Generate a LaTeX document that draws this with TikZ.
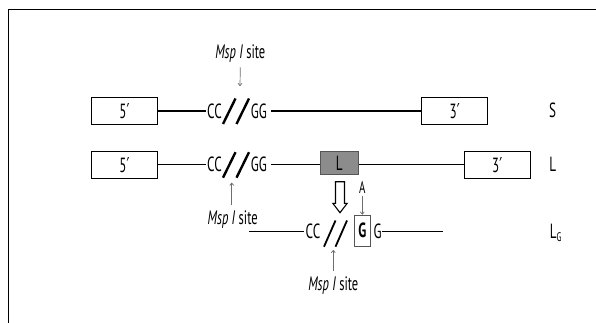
\documentclass[tikz,border=0pt]{standalone}
\usepackage{fontspec}
\setmainfont[FakeStretch=0.64]{PT Sans}
\newfontfamily\primefont[FakeStretch=0.64]{DejaVu Sans}
\newcommand{\pr}{{\primefont ′}}
\usetikzlibrary{arrows.meta}
\definecolor{boxgray}{RGB}{140,140,140}
\definecolor{boxedge}{RGB}{85,85,85}
\definecolor{thinarrow}{RGB}{110,110,110}
\tikzset{
  endbox/.style={draw=black, line width=1pt, minimum width=66pt, minimum height=27pt, inner sep=0pt, font=\fontsize{20.5}{22}\selectfont},
  seq/.style={inner sep=1pt, font=\fontsize{20.5}{22}\selectfont},
  rowlabel/.style={inner sep=0pt, font=\fontsize{20.5}{22}\selectfont},
  sitetext/.style={inner sep=0pt, font=\fontsize{19.5}{22}\selectfont},
  strand/.style={line width=1.3pt},
  cut/.style={line width=2.4pt},
  pointer/.style={draw=thinarrow, line width=0.7pt, -{To[length=3pt,width=4.5pt]}}
}
\begin{document}
\begin{tikzpicture}[x=1pt,y=-1pt]
\useasboundingbox (0,0) rectangle (596,323);
% frame edges
\draw[line width=0.9pt] (8.3,323) -- (8.3,9.5) -- (596,9.5);

% ---- row S ----
\node[endbox] (s5) at (124.5,111) {5\pr};
\node[seq] (sCC) at (214.5,111) {CC};
\node[seq] (sGG) at (258.8,111) {GG};
\node[endbox] (s3) at (454.7,111) {3\pr};
\node[rowlabel] (sLab) at (552.7,110) {S};
\draw[strand] (s5.east) -- (sCC.west);
\draw[strand] (sGG.east) ++(3,0) -- (s3.west);
\draw[cut] (223,124) -- (235.5,98.5);
\draw[cut] (236.5,124) -- (249,98.5);
\coordinate (sCut) at (240,95);
\node[sitetext] (mspS) at (240.3,53.3) {\textit{Msp I} site};
\draw[pointer] (mspS.south) ++(0,5) -- (sCut |- 0,86);

% ---- row L ----
\node[endbox] (l5) at (124.5,164.7) {5\pr};
\node[seq] (lCC) at (214.5,164.7) {CC};
\node[seq] (lGG) at (258.8,164.7) {GG};
\node[draw=boxedge, fill=boxgray, line width=0.8pt, minimum width=38.3pt, minimum height=22.3pt, inner sep=0pt, font=\fontsize{20.5}{22}\selectfont] (lL) at (339.2,162.9) {L};
\node[endbox] (l3) at (497.2,164.7) {3\pr};
\node[rowlabel] (lLab) at (552.7,164) {L};
\draw[strand] (l5.east) -- (lCC.west);
\draw[strand] (lGG.east) ++(3,0) -- (lGG.east -| lL.west);
\draw[strand] (lGG.east -| lL.east) -- (l3.west);
\draw[cut] (223,177.7) -- (235.5,152.2);
\draw[cut] (236.5,177.7) -- (249,152.2);
\coordinate (lCut) at (231.7,182.7);
\node[sitetext] (mspL) at (232.7,220) {\textit{Msp I} site};
\draw[pointer] (mspL.north) ++(-1,-5.5) -- (lCut);

% hollow arrow from the L insert down to the mutated strand
\draw[line width=1.1pt, fill=white]
  (335.5,181.7) -- (335.5,203.3) -- (332.8,203.3) -- (340,212.7)
  -- (347.2,203.3) -- (344.5,203.3) -- (344.5,181.7) -- cycle;

% ---- row L_G ----
\coordinate (gStart) at (249.3,231);
\node[seq] (gCC) at (313,231) {CC};
\node[draw=boxedge, line width=0.7pt, minimum width=16.7pt, minimum height=31.7pt, inner sep=0pt, font=\fontsize{20.5}{22}\selectfont\bfseries] (gBox) at (362.3,230.8) {G};
\node[seq, inner sep=0.5pt] (gG) at (377.7,231) {G};
\coordinate (gEnd) at (442.7,231);
\node[rowlabel] (gLab) at (556,233) {L\textsubscript{\fontsize{12.5}{13}\selectfont G}};
\draw[line width=1pt] (gStart) -- (gCC.west);
\draw[line width=1pt] (gG.east) -- (gEnd);
\draw[line width=1.8pt] (324,246.7) -- (335.5,220.5);
\draw[line width=1.8pt] (335.5,246.7) -- (347,220.5);
\node[inner sep=0pt, font=\fontsize{17}{18}\selectfont] (aLab) at (362.3,187.3) {A};
\draw[pointer] (aLab.south) ++(0,2) -- (gBox.north);
\coordinate (gCut) at (333.3,250);
\node[sitetext] (mspG) at (333.3,286) {\textit{Msp I} site};
\draw[pointer] (mspG.north) ++(0,-5.5) -- (gCut);
\end{tikzpicture}
\end{document}
